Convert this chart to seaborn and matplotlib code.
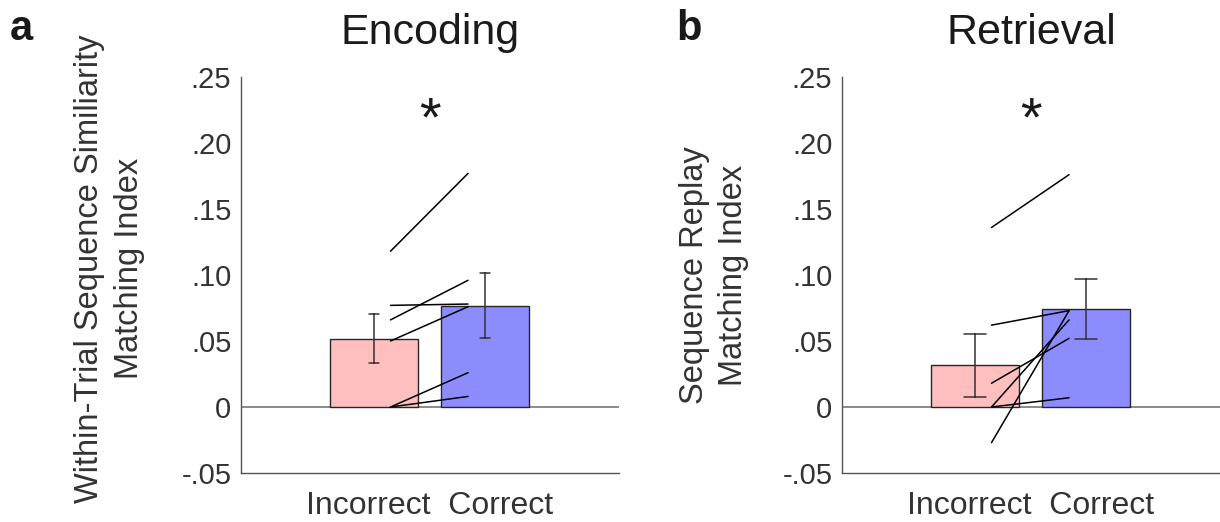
import matplotlib
matplotlib.use("Agg")
import matplotlib.pyplot as plt
import pandas as pd
import seaborn as sns

# ---- data -------------------------------------------------------------
conditions = ["Incorrect", "Correct"]
subjects = ["s1", "s2", "s3", "s4", "s5", "s6"]

encoding_incorrect = [0.118, 0.077, 0.066, 0.050, 0.000, 0.000]
encoding_correct = [0.177, 0.078, 0.096, 0.076, 0.026, 0.008]

retrieval_incorrect = [0.136, 0.062, 0.018, 0.000, 0.000, -0.027]
retrieval_correct = [0.176, 0.073, 0.052, 0.066, 0.007, 0.073]

panel_titles = ["Encoding", "Retrieval"]
panel_letters = ["a", "b"]
panel_ylabels = ["Within-Trial Sequence Similiarity\nMatching Index",
                 "Sequence Replay\nMatching Index"]
significance = ["*", "*"]

ytick_values = [-0.05, 0.0, 0.05, 0.10, 0.15, 0.20, 0.25]
ytick_labels = ["-.05", "0", ".05", ".10", ".15", ".20", ".25"]

# ---- style ------------------------------------------------------------
sns.set_style("white")
plt.rcParams["font.family"] = ["Liberation Sans", "DejaVu Sans"]

bar_colors = ["#FFBFBF", "#8C8CFF"]
edge_color = "#262626"
axis_color = "#555555"
text_color = "#333333"


def long_form(incorrect, correct):
    rows = []
    for cond, vals in zip(conditions, [incorrect, correct]):
        for subj, v in zip(subjects, vals):
            rows.append({"condition": cond, "subject": subj, "value": v})
    return pd.DataFrame(rows)


panels = [long_form(encoding_incorrect, encoding_correct),
          long_form(retrieval_incorrect, retrieval_correct)]

fig = plt.figure(figsize=(12.2, 5.22), dpi=100)
W, H = 1220.0, 522.0
axes = [fig.add_axes([241 / W, 49 / H, 378 / W, 396 / H]),
        fig.add_axes([842 / W, 49 / H, 378 / W, 396 / H])]

capsizes = [0.09, 0.2]
ylabel_xy = [(-0.255, 0.517), (-0.245, 0.5)]
letter_x = [10 / W, 676 / W]

# subject lines run from just right of the Incorrect bar centre
# to just left of the Correct bar centre
line_offsets = {"Incorrect": 0.147, "Correct": -0.151}

for i, (ax, df) in enumerate(zip(axes, panels)):
    ax.axhline(0, color="#777777", lw=1.2, zorder=0.5)

    sns.barplot(data=df, x="condition", y="value", order=conditions,
                hue="condition", hue_order=conditions, palette=bar_colors,
                saturation=1, errorbar="se", capsize=capsizes[i], width=0.8,
                err_kws={"color": "#333333", "linewidth": 1.1},
                edgecolor=edge_color, linewidth=1.0, legend=False, ax=ax)

    df = df.copy()
    df["xpos"] = [conditions.index(c) + line_offsets[c] for c in df["condition"]]
    sns.lineplot(data=df, x="xpos", y="value", units="subject",
                 estimator=None, color="black", lw=1.1, legend=False,
                 zorder=3, ax=ax)

    ax.text(0.5, 0.206, significance[i], ha="center", va="baseline",
            fontsize=40, color="#1a1a1a")

    ax.set_xlim(-1.206, 2.215)
    ax.set_ylim(-0.05, 0.25)
    ax.set_yticks(ytick_values)
    ax.set_yticklabels(ytick_labels)
    ax.set_xticks([0, 1])
    ax.set_xticklabels(["", ""])
    ax.set_xlabel("  ".join(conditions), fontsize=23, color=text_color,
                  labelpad=11)
    ax.set_ylabel(panel_ylabels[i], fontsize=23.5, color=text_color,
                  linespacing=1.35)
    ax.yaxis.set_label_coords(*ylabel_xy[i])
    ax.set_title(panel_titles[i], fontsize=31, pad=24, color="#1a1a1a")

    ax.tick_params(axis="y", direction="in", length=5, width=0.9,
                   color=axis_color, labelsize=21, labelcolor=text_color,
                   pad=7)
    ax.tick_params(axis="x", direction="in", length=2.5, width=0.8,
                   color="#999999", pad=2)

    sns.despine(ax=ax)
    for side in ["left", "bottom"]:
        ax.spines[side].set_color(axis_color)
        ax.spines[side].set_linewidth(1.0)

    fig.text(letter_x[i], 1 - 40 / H, panel_letters[i], fontsize=30,
             fontweight="bold", color="#1a1a1a", ha="left", va="baseline")

fig.savefig("out.png", dpi=100)
